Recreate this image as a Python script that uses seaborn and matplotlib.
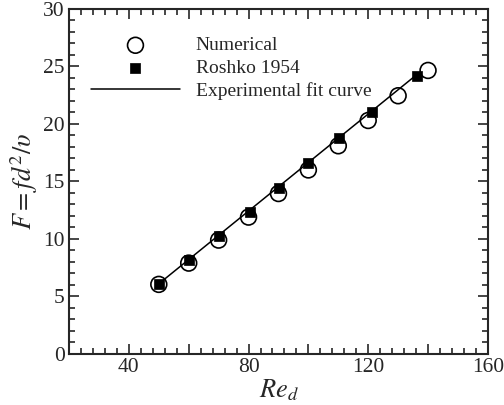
import numpy as np
import pandas as pd
import matplotlib
matplotlib.use("Agg")
import matplotlib.pyplot as plt
import seaborn as sns
from matplotlib.ticker import MultipleLocator, FuncFormatter

# ---------------------------
# DATA
# ---------------------------
re_num = [50, 60, 70, 80, 90, 100, 110, 120, 130, 140]
f_num = [6.05, 7.9, 9.9, 11.9, 13.95, 16.0, 18.1, 20.3, 22.45, 24.65]

re_roshko = [50, 60, 70, 80.4, 90.2, 100, 110.2, 121.2, 136.4]
f_roshko = [6.05, 8.15, 10.25, 12.3, 14.45, 16.6, 18.8, 21.05, 24.2]

re_fit = [50, 137]
f_fit = [6.1, 24.45]

num_df = pd.DataFrame({'Re': re_num, 'F': f_num})
ros_df = pd.DataFrame({'Re': re_roshko, 'F': f_roshko})
fit_df = pd.DataFrame({'Re': re_fit, 'F': f_fit})

# ---------------------------
# STYLE
# ---------------------------
sns.set_style("ticks")
plt.rcParams['font.family'] = ['Liberation Serif', 'DejaVu Serif']
plt.rcParams['mathtext.fontset'] = 'stix'

fig = plt.figure(figsize=(5.04, 4.05), dpi=100)
ax = fig.add_axes([0.137, 0.126, 0.831, 0.852])

# ---------------------------
# PLOT
# ---------------------------
sns.lineplot(data=fit_df, x='Re', y='F', ax=ax, color='black', lw=1.1,
             label='Experimental fit curve', zorder=2)
sns.scatterplot(data=num_df, x='Re', y='F', ax=ax, marker='o', s=130,
                facecolor='none', edgecolor='black', linewidth=1.2,
                label='Numerical', zorder=3)
sns.scatterplot(data=ros_df, x='Re', y='F', ax=ax, marker='s', s=45,
                color='black', edgecolor='black', linewidth=0.5,
                label='Roshko 1954', zorder=4)

ax.set_xlim(20, 160)
ax.set_ylim(0, 30)

ax.xaxis.set_major_locator(MultipleLocator(20))
ax.xaxis.set_minor_locator(MultipleLocator(4))
ax.xaxis.set_major_formatter(FuncFormatter(lambda v, p: f"{v:.0f}" if round(v) % 40 == 0 and v > 20 else ""))
ax.yaxis.set_major_locator(MultipleLocator(5))
ax.yaxis.set_minor_locator(MultipleLocator(1))

ax.tick_params(which='both', direction='in', top=True, right=True,
               labelsize=15.5, width=1.2, pad=3)
ax.tick_params(which='major', length=7)
ax.tick_params(which='minor', length=4)
for s in ax.spines.values():
    s.set_linewidth(1.5)

ax.set_xlabel(r'$Re_d$', fontsize=19, labelpad=0)
ax.set_ylabel(r'$F = fd^2/\upsilon$', fontsize=19, labelpad=2)

# legend order: Numerical, Roshko, fit
h, l = ax.get_legend_handles_labels()
order = [l.index('Numerical'), l.index('Roshko 1954'), l.index('Experimental fit curve')]
ax.legend([h[i] for i in order], [l[i] for i in order], frameon=False,
          loc='upper left', bbox_to_anchor=(0.01, 0.97), fontsize=14,
          handlelength=4.6, handletextpad=0.8, labelspacing=0.25)

fig.savefig('out.png', dpi=100)
